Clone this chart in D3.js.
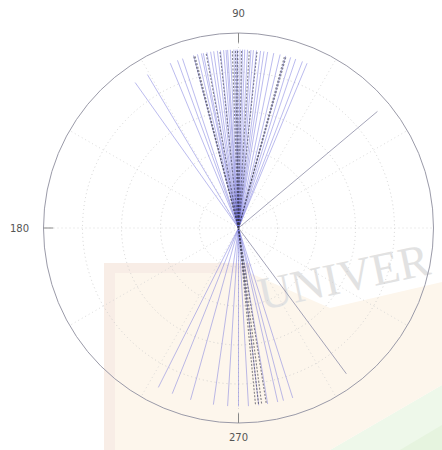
<!DOCTYPE html>
<html><head><meta charset="utf-8">
<script src="https://cdn.jsdelivr.net/npm/d3@7"></script>
<style>html,body{margin:0;padding:0;background:#fff;}</style>
</head><body>
<svg id="chart" width="442" height="450"></svg>
<script>
// Angles (degrees) of the blue rays
const blueAngles = [125.4, 120.7, 112.5, 110.0, 108.3, 104.6, 103.3, 102.0, 101.4, 100.2, 99.0, 98.0, 96.8, 95.8, 94.8, 94.0, 93.5, 92.6, 91.5, 90.8, 90.3, 89.5, 88.7, 88.0, 87.1, 86.0, 85.2, 84.2, 82.9, 81.8, 80.6, 78.6, 76.5, 74.7, 73.0, 71.3, 69.0, 67.4,
  243.3, 248.2, 254.4, 261.9, 266.5, 270.0, 273.2, 276.5, 279.4, 282.7, 284.6, 287.7];
// Angles of the dark dotted rays
const darkAngles = [104.6, 104.2, 100.5, 96.0, 92.0, 91.0, 90.3, 89.0, 86.5, 84.0, 75.0, 74.5, 275.5, 276.5, 277.5, 279.0];
// Lone grey rays
const greyAngles = [40.0, 306.5];
// Ray length (radius units, outer circle = 1)
const rayRadius = 0.915;
const ringTicks = [0.2, 0.4, 0.6, 0.8];
const spokeAngles = [0, 30, 60, 90, 120, 150, 180, 210, 240, 270, 300, 330];
const angleLabels = ["90", "180", "270"];
const labelAngles = [90, 180, 270];

const svg = d3.select("#chart");
const cx = 238.5, cy = 228, R = 195;
const r = d3.scaleLinear().domain([0, 1]).range([0, R]);
const px = (a, v) => cx + r(v) * Math.cos(a * Math.PI / 180);
const py = (a, v) => cy - r(v) * Math.sin(a * Math.PI / 180);

// background watermark
const wm = svg.append("g");
wm.append("path").attr("d", "M330,450 L442,385 L442,450 Z").attr("fill", "#eef8ea");
wm.append("path").attr("d", "M400,450 L442,425 L442,450 Z").attr("fill", "#e6f4df");
wm.append("rect").attr("x", 104).attr("y", 263).attr("width", 11).attr("height", 187).attr("fill", "#f8ede6");
wm.append("path").attr("d", "M104,263 L250,263 L250,273 L115,273 Z").attr("fill", "#f8ede6");
wm.append("path").attr("d", "M115,273 L250,273 L330,308 L442,282 L442,385 L330,450 L115,450 Z").attr("fill", "#fdf6ec");
wm.append("text").attr("x", 262).attr("y", 310).attr("transform", "rotate(-12,262,310)")
  .attr("font-family", "Liberation Serif").attr("font-size", 46).attr("fill", "#e2e2e2")
  .text("UNIVER");

// grid
const grid = svg.append("g");
grid.selectAll("circle.ring").data(ringTicks).join("circle")
  .attr("cx", cx).attr("cy", cy).attr("r", d => r(d))
  .attr("fill", "none").attr("stroke", "#c8c8c8").attr("stroke-width", 0.8).attr("stroke-dasharray", "1,3");
grid.selectAll("line.spoke").data(spokeAngles).join("line")
  .attr("x1", cx).attr("y1", cy).attr("x2", d => px(d, 1)).attr("y2", d => py(d, 1))
  .attr("stroke", "#d2d2d2").attr("stroke-width", 0.8).attr("stroke-dasharray", "1,3");
grid.append("circle").attr("cx", cx).attr("cy", cy).attr("r", R)
  .attr("fill", "none").attr("stroke", "#9a9aa8").attr("stroke-width", 1);
grid.selectAll("line.tick").data(labelAngles).join("line")
  .attr("x1", d => px(d, 1)).attr("y1", d => py(d, 1)).attr("x2", d => px(d, 0.95)).attr("y2", d => py(d, 0.95))
  .attr("stroke", "#888").attr("stroke-width", 1);

// rays
const rays = svg.append("g");
rays.selectAll("line.blue").data(blueAngles).join("line")
  .attr("x1", cx).attr("y1", cy).attr("x2", d => px(d, rayRadius)).attr("y2", d => py(d, rayRadius))
  .attr("stroke", "#7777dd").attr("stroke-opacity", 0.5).attr("stroke-width", 1);
rays.selectAll("line.dark").data(darkAngles).join("line")
  .attr("x1", cx).attr("y1", cy).attr("x2", d => px(d, rayRadius)).attr("y2", d => py(d, rayRadius))
  .attr("stroke", "#333344").attr("stroke-opacity", 0.6).attr("stroke-width", 1.1).attr("stroke-dasharray", "2,1.5");
rays.selectAll("line.grey").data(greyAngles).join("line")
  .attr("x1", cx).attr("y1", cy).attr("x2", d => px(d, 0.93)).attr("y2", d => py(d, 0.93))
  .attr("stroke", "#9a9ab0").attr("stroke-width", 0.9);

// labels
const lbl = svg.append("g").attr("font-family", "DejaVu Sans").attr("font-size", 10).attr("fill", "#555");
lbl.append("text").attr("x", cx).attr("y", 17).attr("text-anchor", "middle").text(angleLabels[0]);
lbl.append("text").attr("x", 29).attr("y", 232).attr("text-anchor", "end").text(angleLabels[1]);
lbl.append("text").attr("x", cx).attr("y", 441).attr("text-anchor", "middle").text(angleLabels[2]);
</script>
</body></html>
